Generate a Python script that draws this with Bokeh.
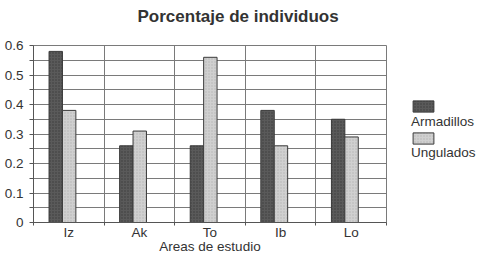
from bokeh.plotting import figure
from bokeh.layouts import row
from bokeh.models import (ColumnDataSource, Range1d, FixedTicker, Title,
                          SingleIntervalTicker, Legend, LegendItem, Label)
from bokeh.transform import dodge
from bokeh.embed import file_html
from bokeh.resources import INLINE

areas = ["Iz", "Ak", "To", "Ib", "Lo"]
armadillos = [0.58, 0.26, 0.26, 0.38, 0.35]
ungulados = [0.38, 0.31, 0.56, 0.26, 0.29]
series = ["Armadillos", "Ungulados"]
colors = ["#5a5a5a", "#d0d0d0"]
hatch_colors = ["#3c3c3c", "#b4b4b4"]
y_ticks = [0, 0.1, 0.2, 0.3, 0.4, 0.5, 0.6]
y_labels = ["0", "0.1", "0.2", "0.3", "0.4", "0.5", "0.6"]
title_text = "Porcentaje de individuos"

FONT = "Liberation Sans"
TXT = "#333333"
GRID = "#7a7a7a"
AXIS = "#555555"

n = len(areas)
centers = [i + 0.5 for i in range(n)]          # category centres
bounds = list(range(n + 1))                     # category boundaries
src = ColumnDataSource(dict(pos=centers, area=areas,
                            Armadillos=armadillos, Ungulados=ungulados))

p = figure(x_range=Range1d(0, n), y_range=Range1d(y_ticks[0], y_ticks[-1]),
           width=390, height=263, output_backend="svg", toolbar_location=None,
           min_border_left=33, min_border_right=4, min_border_top=45,
           min_border_bottom=41)
p.title_location = None

# spacer panel next to the frame, then the real title above it
p.add_layout(Title(text=" ", text_font_size="1px", standoff=17), "above")
p.add_layout(Title(text=title_text, align="left", vertical_align="bottom", offset=104,
                   text_font=FONT, text_font_size="17px", text_font_style="bold",
                   text_color=TXT, standoff=0), "above")

offsets = [-0.185, 0.005]
bar_style = []
for name, off, col, hc in zip(series, offsets, colors, hatch_colors):
    style = dict(fill_color=col, line_color="#3a3a3a", line_width=1,
                 hatch_pattern="dot", hatch_color=hc, hatch_scale=3, hatch_weight=1)
    bar_style.append((name, off, style))
    p.vbar(x=dodge("pos", off), top=name, width=0.19, source=src, **style)

# grids
p.xgrid.ticker = FixedTicker(ticks=bounds[1:-1])
p.xgrid.grid_line_color = GRID
p.ygrid.ticker = SingleIntervalTicker(interval=0.05)
p.ygrid.grid_line_color = GRID
p.outline_line_color = GRID

# y axis
y_minor = [(a + b) / 2 for a, b in zip(y_ticks[:-1], y_ticks[1:])]
p.yaxis.ticker = FixedTicker(ticks=y_ticks, minor_ticks=y_minor)
p.yaxis.major_label_overrides = dict(zip(y_ticks, y_labels))
p.yaxis.major_tick_out = 4
p.yaxis.major_tick_in = 0
p.yaxis.minor_tick_out = 4
p.yaxis.minor_tick_in = 0
p.yaxis.major_label_standoff = 6
p.yaxis.axis_line_color = AXIS
p.yaxis.major_tick_line_color = AXIS
p.yaxis.minor_tick_line_color = AXIS

# x axis: labels at centres, tick marks at boundaries
p.xaxis.ticker = FixedTicker(ticks=centers, minor_ticks=bounds)
p.xaxis.major_label_overrides = dict(zip(centers, areas))
p.xaxis.axis_label = "Areas de estudio"
p.xaxis.major_tick_line_color = None
p.xaxis.major_tick_out = 0
p.xaxis.major_tick_in = 0
p.xaxis.minor_tick_out = 3
p.xaxis.minor_tick_in = 0
p.xaxis.minor_tick_line_color = AXIS
p.xaxis.major_label_standoff = -1
p.xaxis.axis_label_standoff = -4
p.xaxis.axis_line_color = AXIS

for ax in (p.xaxis[0], p.yaxis[0]):
    ax.major_label_text_font = FONT
    ax.major_label_text_font_size = "13.5px"
    ax.major_label_text_color = TXT
    ax.axis_label_text_font = FONT
    ax.axis_label_text_font_size = "13.5px"
    ax.axis_label_text_font_style = "normal"
    ax.axis_label_text_color = TXT

# legend panel (separate figure to the right; its frame is aligned with the chart's)
lg = figure(width=96, height=263, output_backend="svg", toolbar_location=None,
            x_axis_location=None, y_axis_location=None, min_border=0,
            x_range=Range1d(0, n), y_range=Range1d(y_ticks[0], y_ticks[-1]))
lg.outline_line_color = None
lg.grid.visible = False
legend_renderers = []
for name, off, style in bar_style:
    r = lg.vbar(x=dodge("pos", off), top=name, width=0.19, source=src, **style)
    r.visible = False   # only used to draw the legend swatch
    legend_renderers.append(r)

legend = Legend(items=[LegendItem(label=" ", renderers=[r]) for r in legend_renderers],
                location=(20, 77), orientation="vertical")
legend.glyph_width = 26
legend.glyph_height = 14
legend.label_height = 14
legend.label_standoff = 0
legend.label_text_font_size = "1px"
legend.padding = 0
legend.margin = 0
legend.spacing = 18
legend.border_line_color = None
legend.background_fill_alpha = 0
lg.add_layout(legend)

for i, s in enumerate(series):
    lg.add_layout(Label(x=20.5, y=109 - 31 * i, x_units="screen", y_units="screen",
                        text=s, text_baseline="top", text_font=FONT,
                        text_font_size="13.5px", text_color=TXT))

layout = row(p, lg, spacing=0)
open("out.html", "w").write(file_html(layout, INLINE))
